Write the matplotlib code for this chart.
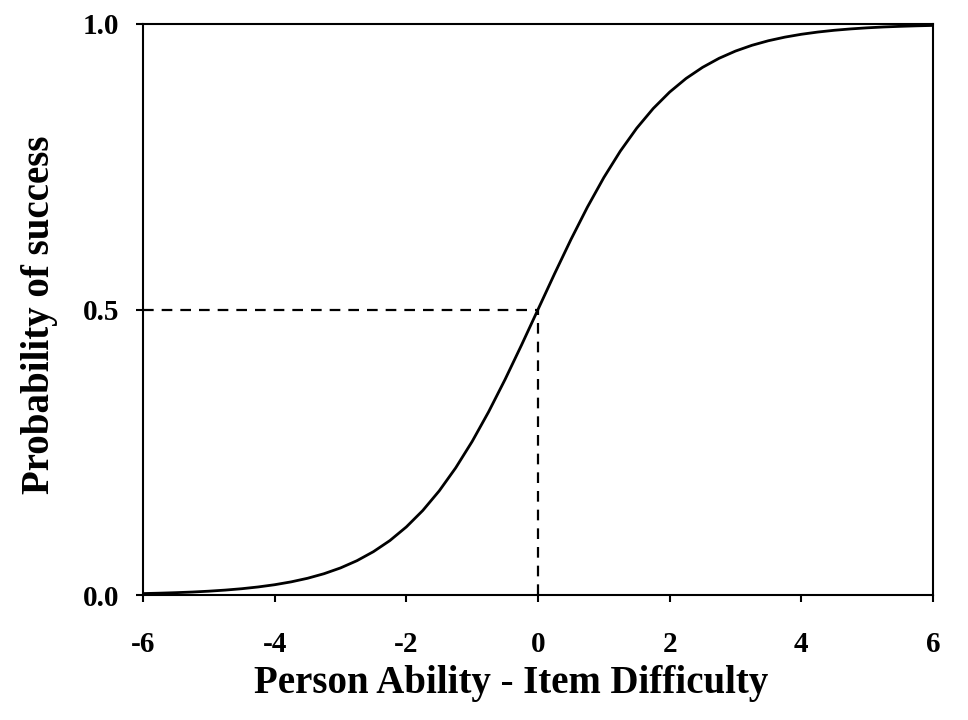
import matplotlib
matplotlib.use("Agg")
import matplotlib.pyplot as plt

# Values (ability - difficulty vs probability)
x_vals = [-6.0, -5.75, -5.5, -5.25, -5.0, -4.75, -4.5, -4.25, -4.0, -3.75, -3.5, -3.25,
          -3.0, -2.75, -2.5, -2.25, -2.0, -1.75, -1.5, -1.25, -1.0, -0.75, -0.5, -0.25,
          0.0, 0.25, 0.5, 0.75, 1.0, 1.25, 1.5, 1.75, 2.0, 2.25, 2.5, 2.75, 3.0,
          3.25, 3.5, 3.75, 4.0, 4.25, 4.5, 4.75, 5.0, 5.25, 5.5, 5.75, 6.0]
p_vals = [0.0025, 0.0032, 0.0041, 0.0052, 0.0067, 0.0086, 0.0110, 0.0141, 0.0180, 0.0230,
          0.0293, 0.0373, 0.0474, 0.0601, 0.0759, 0.0953, 0.1192, 0.1480, 0.1824, 0.2227,
          0.2689, 0.3208, 0.3775, 0.4378, 0.5000, 0.5622, 0.6225, 0.6792, 0.7311, 0.7773,
          0.8176, 0.8520, 0.8808, 0.9047, 0.9241, 0.9399, 0.9526, 0.9627, 0.9707, 0.9770,
          0.9820, 0.9859, 0.9890, 0.9914, 0.9933, 0.9948, 0.9959, 0.9968, 0.9975]

x_ticks = [-6, -4, -2, 0, 2, 4, 6]
y_ticks = [0.0, 0.5, 1.0]
y_tick_labels = ["0.0", "0.5", "1.0"]
mid_x = 0.0
mid_p = 0.5

plt.rcParams['font.family'] = ['Liberation Serif', 'DejaVu Serif']

fig = plt.figure(figsize=(9.68, 7.2), dpi=100)
ax = fig.add_axes([143/968, 1-595/720, (933-143)/968, (595-24)/720])

ax.plot(x_vals, p_vals, color='black', lw=2.0, solid_capstyle='butt', zorder=3)
ax.plot([x_ticks[0], mid_x], [mid_p, mid_p], color='black', lw=1.6, dashes=(4.8, 3.6))
ax.plot([mid_x, mid_x], [0, mid_p], color='black', lw=1.6, dashes=(4.8, 3.6))

ax.set_xlim(-6, 6)
ax.set_ylim(0, 1)
ax.set_xticks(x_ticks)
ax.set_xticklabels([str(t) for t in x_ticks])
ax.set_yticks(y_ticks)
ax.set_yticklabels(y_tick_labels)

for s in ax.spines.values():
    s.set_linewidth(1.5)
    s.set_color('black')

ax.tick_params(axis='both', direction='out', length=5, width=1.5, colors='black',
               labelsize=21)
ax.tick_params(axis='x', pad=21)
ax.tick_params(axis='y', pad=12)
for lab in ax.get_xticklabels() + ax.get_yticklabels():
    lab.set_fontweight('bold')

ax.set_xlabel("Person Ability - Item Difficulty", fontsize=28, fontweight='bold')
ax.set_ylabel("Probability of success", fontsize=28, fontweight='bold')
ax.xaxis.set_label_coords(0.466, -(665 - 595) / 571)
ax.yaxis.set_label_coords(-(143 - 58) / 790, 0.49)

fig.savefig("out.png", dpi=100)
